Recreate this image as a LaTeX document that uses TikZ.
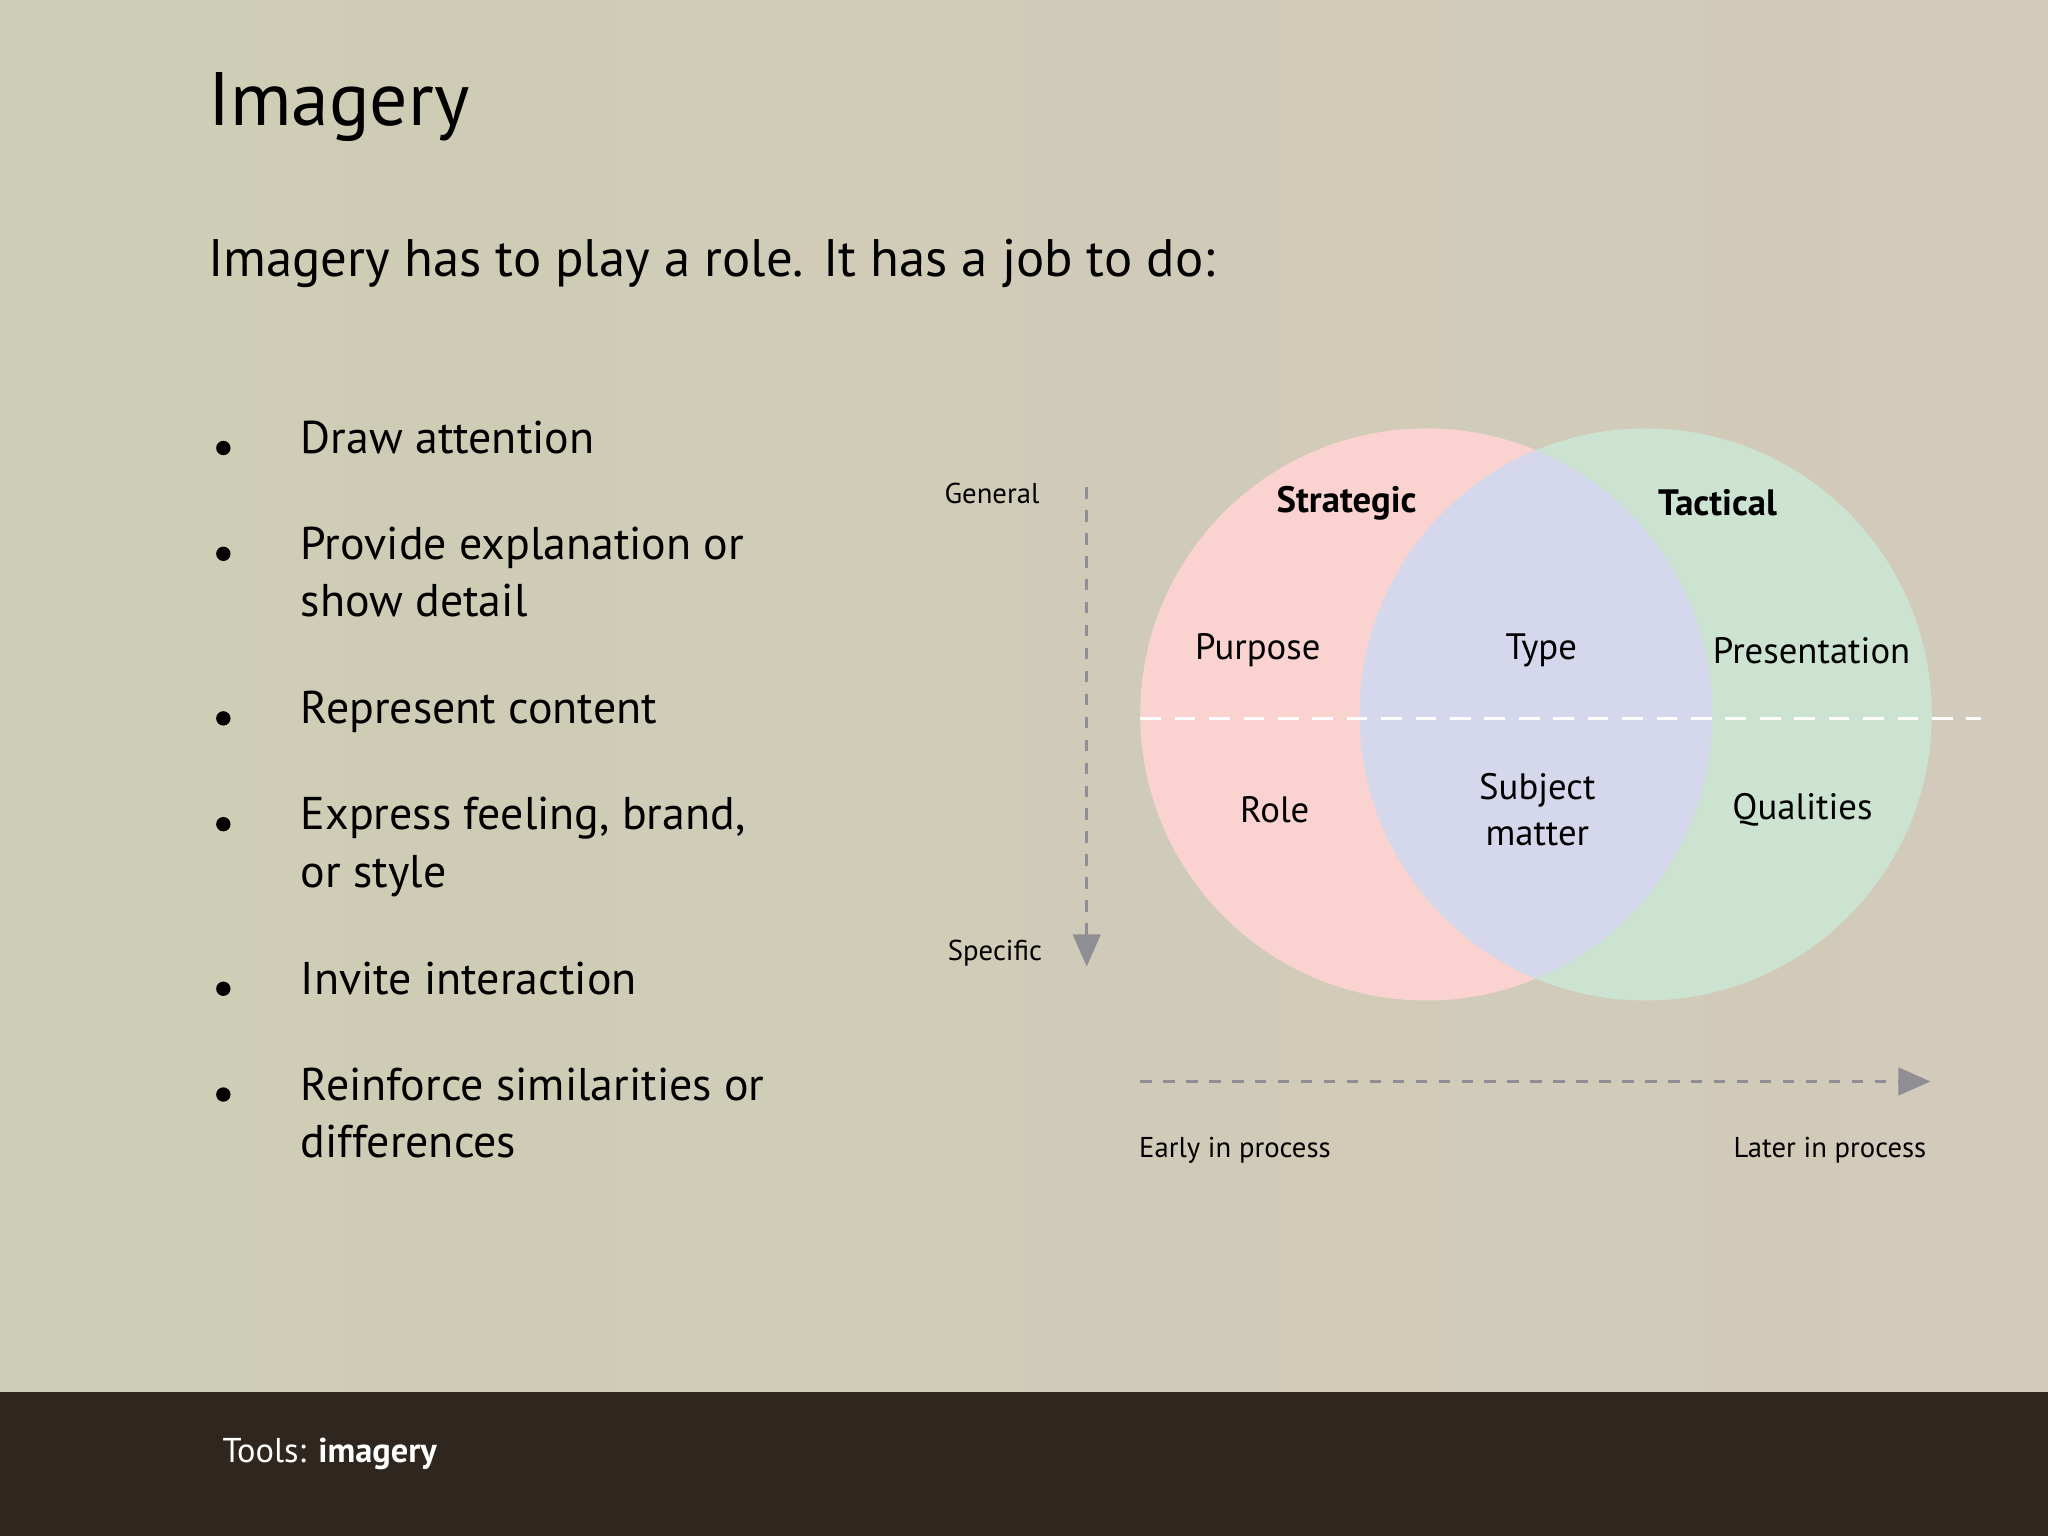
\documentclass[tikz,border=0pt]{standalone}
\usepackage{fontspec}
\setmainfont{PT Sans}
\usetikzlibrary{arrows.meta}
\definecolor{bgA}{HTML}{CECDB5}
\definecolor{bgB}{HTML}{D2CABA}
\definecolor{foot}{HTML}{2F271F}
\definecolor{pinkc}{HTML}{FAD3D0}
\definecolor{greenc}{HTML}{CCE3D1}
\definecolor{lavc}{HTML}{D5D8EC}
\definecolor{arrg}{HTML}{8E8E94}
\tikzset{
 bul/.style={anchor=north west,align=left,font=\fontsize{20}{25}\selectfont,inner sep=0},
 venn/.style={font=\fontsize{16}{20}\selectfont,align=center},
 small/.style={font=\fontsize{12.5}{15}\selectfont},
 garrow/.style={arrg,line width=1.2pt,dash pattern=on 5pt off 5pt,-{Triangle[length=14pt,width=12pt]}}
}
\begin{document}
\begin{tikzpicture}[x=0.02cm,y=-0.02cm]
\useasboundingbox (0,0) rectangle (1568,1176);
\shade[left color=bgA,right color=bgB] (0,0) rectangle (1568,1066);
\fill[foot] (0,1066) rectangle (1568,1176);
\node[anchor=west,inner sep=0,font=\fontsize{33}{40}\selectfont] (title) at (159,82) {Imagery};
\node[anchor=west,inner sep=0,font=\fontsize{23}{28}\selectfont] (sub) at (159,202) {Imagery has to play a role. It has a job to do:};
\foreach \y/\t [count=\i] in {322/Draw attention,403/{Provide explanation or\\show detail},529/Represent content,610/{Express feeling, brand,\\or style},736/Invite interaction,817/{Reinforce similarities or\\differences}}{
 \fill (171,\y+21) circle (5.5);
 \node[bul] (b\i) at (230,\y) {\t};
}
% venn
\fill[pinkc] (1092,547) circle (219);
\fill[greenc] (1260,547) circle (219);
\begin{scope}
\clip (1092,547) circle (219);
\fill[lavc] (1260,547) circle (219);
\end{scope}
\coordinate (dl) at (873,550); \coordinate (dr) at (1517,550);
\draw[white,line width=1.5pt,dash pattern=on 9pt off 6pt] (dl) -- (dr);
\node[venn,font=\bfseries\fontsize{16}{20}\selectfont] (strat) at (1031,385) {Strategic};
\node[venn,font=\bfseries\fontsize{16}{20}\selectfont] (tact) at (1315,385) {Tactical};
\node[venn] (purp) at (963,498) {Purpose};
\node[venn] (type) at (1180,498) {Type};
\node[venn] (pres) at (1387,498) {Presentation};
\node[venn] (role) at (976,620) {Role};
\node[venn] (subj) at (1177,620) {Subject\\matter};
\node[venn] (qual) at (1380,620) {Qualities};
% axes
\node[small,anchor=east] (gen) at (802,378) {General};
\node[small,anchor=east] (spec) at (804,730) {Specific};
\coordinate (v1) at (832,373); \coordinate (v2) at (832,740);
\draw[garrow] (v1) -- (v2);
\coordinate (h1) at (873,828); \coordinate (h2) at (1478,828);
\draw[garrow] (h1) -- (h2);
\node[small,anchor=west] (early) at (866,881) {Early in process};
\node[small,anchor=east] (late) at (1481,881) {Later in process};
\node[anchor=west,text=white,font=\fontsize{15}{18}\selectfont,inner sep=0] (tools) at (170,1113) {Tools: \textbf{imagery}};
\end{tikzpicture}
\end{document}
